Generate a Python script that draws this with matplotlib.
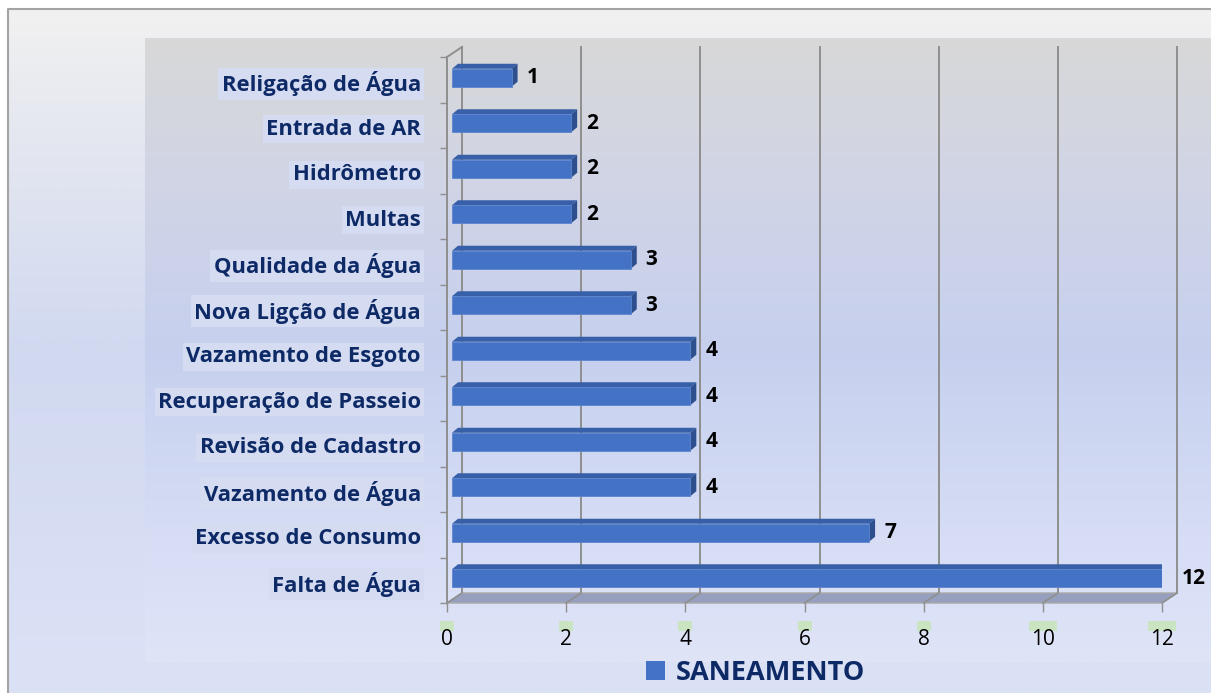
"""Horizontal 3D-style bar chart: SANEAMENTO complaints by category"""

import numpy as np
import matplotlib
matplotlib.use("Agg")
import matplotlib.pyplot as plt
from matplotlib.colors import LinearSegmentedColormap
from matplotlib.patches import Polygon, Rectangle
import matplotlib.transforms as mtransforms

# data (bottom to top, as drawn)
categories = ["Falta de Água", "Excesso de Consumo", "Vazamento de Água",
              "Revisão de Cadastro", "Recuperação de Passeio",
              "Vazamento de Esgoto", "Nova Ligção de Água",
              "Qualidade da Água", "Multas", "Hidrômetro",
              "Entrada de AR", "Religação de Água"]
values = [12, 7, 4, 4, 4, 4, 3, 3, 2, 2, 2, 1]
x_ticks = [0, 2, 4, 6, 8, 10, 12]
series_name = "SANEAMENTO"

W, H = 1211, 693
NAVY = "#0e2a66"
GRID = "#8f8f8f"
plt.rcParams["font.family"] = ["Open Sans", "DejaVu Sans"]

fig = plt.figure(figsize=(W / 100, H / 100), dpi=100)
fig.patch.set_facecolor("white")

# background (pixel coordinates, y down)
bg = fig.add_axes([0, 0, 1, 1], zorder=-10)
bg.set_xlim(0, W)
bg.set_ylim(H, 0)
bg.set_axis_off()

outer = LinearSegmentedColormap.from_list(
    "outer", [(0, "#f1f1f1"), (0.15, "#e7e9f0"), (0.5, "#d1d9f0"), (1, "#dce2f6")])
inner = LinearSegmentedColormap.from_list(
    "inner", [(0, "#d8d8d8"), (0.25, "#d0d4e6"), (0.5, "#c6d0ee"), (0.8, "#d6ddf5"), (1, "#dfe4f7")])
grad = np.linspace(0, 1, 256).reshape(-1, 1)
bg.imshow(grad, cmap=outer, extent=(8, W, H, 9), aspect="auto", zorder=0)
bg.imshow(grad, cmap=inner, extent=(145, W, 662, 38), aspect="auto", zorder=1)
bg.plot([8, 8, W], [H, 9, 9], color="#a3a3a3", lw=1.5, zorder=2)

# main axes: front plane of the 3D box
x0, x1, y_top, y_bot = 447, 1162, 57, 603
ax = fig.add_axes([x0 / W, 1 - y_bot / H, (x1 - x0) / W, (y_bot - y_top) / H])
ax.patch.set_visible(False)
for s in ax.spines.values():
    s.set_visible(False)
n = len(categories)
ax.set_xlim(0, 12)
ax.set_ylim(-0.5, n - 0.5)
px_x = (x1 - x0) / 12
px_y = (y_bot - y_top) / n

# depth of box and of bars, converted to data units
ddx, ddy = 15 / px_x, 10 / px_y
bx, by = 5 / px_x, 2 / px_y
sdx, sdy = 6 / px_x, 5 / px_y
bh = 18 / px_y

ylo, yhi = -0.5, n - 0.5
# back wall gridlines
for t in x_ticks:
    ax.plot([t + ddx, t + ddx], [ylo + ddy, yhi + ddy], color=GRID, lw=1.4,
            zorder=1, clip_on=False)
# floor
ax.add_patch(Polygon([(0, ylo), (12, ylo), (12 + ddx, ylo + ddy), (ddx, ylo + ddy)],
                     closed=True, fc="#96a0be", ec="#a8a8a8", lw=1, zorder=2, clip_on=False))
for t in x_ticks:
    ax.plot([t, t + ddx], [ylo, ylo + ddy], color=GRID, lw=1.2, zorder=2.5, clip_on=False)
# left wall edges
ax.plot([0, 0], [ylo, yhi], color=GRID, lw=1.4, zorder=2, clip_on=False)
ax.plot([0, ddx], [yhi, yhi + ddy], color=GRID, lw=1.4, zorder=2, clip_on=False)

# bars
ypos = np.arange(n)
bars = ax.barh(ypos + by, values, left=bx, height=bh, color="#4472c4",
               edgecolor="#5b84cf", lw=0.6, zorder=4, label=series_name)
for y, v in zip(ypos, values):
    yb, yt = y + by - bh / 2, y + by + bh / 2
    xr = v + bx
    ax.add_patch(Polygon([(bx, yt), (xr, yt), (xr + sdx, yt + sdy), (bx + sdx, yt + sdy)],
                         closed=True, fc="#3760a8", ec="none", zorder=3.5))
    ax.add_patch(Polygon([(xr, yb), (xr + sdx, yb + sdy), (xr + sdx, yt + sdy), (xr, yt)],
                         closed=True, fc="#2e4f8e", ec="none", zorder=3.5))
    ax.text(xr + sdx + 9 / px_x, y + by, str(v), ha="left", va="center",
            fontsize=15, fontweight="bold", color="black", zorder=5, clip_on=False)

# category axis: tick marks at boundaries, labels drawn as text
ax.set_yticks([])
ax.set_yticks(np.arange(n + 1) - 0.5, minor=True)
ax.tick_params(axis="y", which="minor", length=5, width=1, color=GRID)
for y, name in zip(ypos, categories):
    ax.text(-26 / px_x, y - 4 / px_y, name, ha="right", va="center",
            fontsize=15.8, fontweight="bold", color=NAVY, clip_on=False,
            bbox=dict(boxstyle="square,pad=0.15", fc="#d5dcf2", ec="none"))

# value axis
ax.set_xticks(x_ticks)
ax.set_xticklabels([str(t) for t in x_ticks])
ax.tick_params(axis="x", which="major", length=6.5, width=1, color=GRID,
               labelsize=15, pad=12, labelcolor="black")
blend = mtransforms.blended_transform_factory(ax.transData, bg.transData)
for t in x_ticks:
    w = 14 * len(str(t)) / px_x
    ax.add_patch(Rectangle((t - w / 2, 621), w, 10, transform=blend, fc="#cae3c0",
                           ec="none", zorder=0, clip_on=False))

# legend
leg = ax.legend(handles=[bars], loc="center", bbox_to_anchor=(756 / W, 1 - 673 / H),
                bbox_transform=fig.transFigure, frameon=False, handlelength=0.7,
                handleheight=0.7, handletextpad=0.4,
                prop={"size": 19.5, "weight": "bold"}, labelcolor=NAVY)
for h in leg.legend_handles:
    h.set_edgecolor("none")

fig.savefig("out.png", dpi=100)
